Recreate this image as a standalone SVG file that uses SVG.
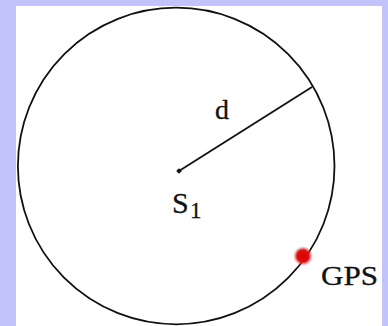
<svg xmlns="http://www.w3.org/2000/svg" width="388" height="326" viewBox="0 0 388 326">
<style>
.lbl{font-family:"Liberation Serif","Times New Roman",serif;fill:#111;stroke:#111;stroke-width:0.3}
.ln{stroke:#111;fill:none;stroke-width:1.8}
</style>
<defs>
<radialGradient id="gpsg">
<stop offset="0" stop-color="#d80000"/>
<stop offset="0.6" stop-color="#e01010"/>
<stop offset="1" stop-color="#f07070" stop-opacity="0"/>
</radialGradient>
</defs>
<rect x="0" y="0" width="388" height="326" fill="#c3c3fb"/>
<rect x="16" y="6" width="366" height="320" fill="#ffffff"/>
<g id="circle">
<circle class="ln" cx="176.2" cy="166" r="158.3"/>
</g>
<g id="connectors">
<line class="ln" x1="179" y1="171" x2="312" y2="87"/>
</g>
<g id="s1">
<rect x="177" y="169" width="4" height="4" fill="#111" transform="rotate(45 179 171)"/>
<text class="lbl" x="172" y="213" font-size="30">S</text>
<text class="lbl" x="190" y="218" font-size="23">1</text>
</g>
<g id="d">
<text class="lbl" x="215" y="119" font-size="28">d</text>
</g>
<g id="gps">
<circle cx="303" cy="256" r="10" fill="url(#gpsg)"/>
<text class="lbl" x="321" y="285" font-size="27" textLength="57" lengthAdjust="spacingAndGlyphs">GPS</text>
</g>
</svg>
